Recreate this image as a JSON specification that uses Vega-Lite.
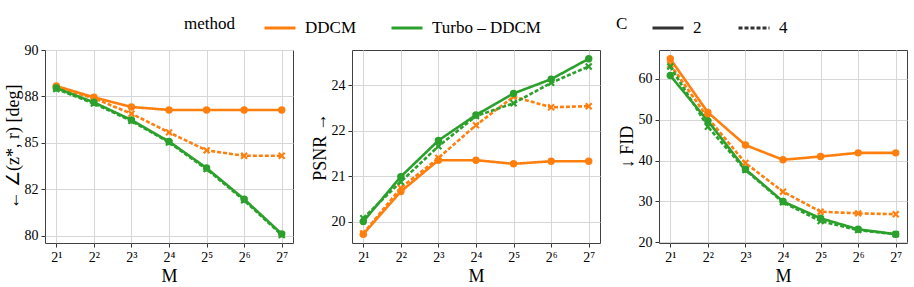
{
  "$schema": "https://vega.github.io/schema/vega-lite/v6.json",
  "padding": {"left": 3, "top": 11, "right": 5, "bottom": 5},
  "datasets": {
    "d": [
      {"metric": "angle", "M": 2, "method": "DDCM", "C": "2", "v": 88.06},
      {"metric": "angle", "M": 4, "method": "DDCM", "C": "2", "v": 87.45},
      {"metric": "angle", "M": 8, "method": "DDCM", "C": "2", "v": 86.93},
      {"metric": "angle", "M": 16, "method": "DDCM", "C": "2", "v": 86.77},
      {"metric": "angle", "M": 32, "method": "DDCM", "C": "2", "v": 86.77},
      {"metric": "angle", "M": 64, "method": "DDCM", "C": "2", "v": 86.77},
      {"metric": "angle", "M": 128, "method": "DDCM", "C": "2", "v": 86.77},
      {"metric": "angle", "M": 2, "method": "DDCM", "C": "4", "v": 87.98},
      {"metric": "angle", "M": 4, "method": "DDCM", "C": "4", "v": 87.40},
      {"metric": "angle", "M": 8, "method": "DDCM", "C": "4", "v": 86.57},
      {"metric": "angle", "M": 16, "method": "DDCM", "C": "4", "v": 85.56},
      {"metric": "angle", "M": 32, "method": "DDCM", "C": "4", "v": 84.59},
      {"metric": "angle", "M": 64, "method": "DDCM", "C": "4", "v": 84.30},
      {"metric": "angle", "M": 128, "method": "DDCM", "C": "4", "v": 84.30},
      {"metric": "angle", "M": 2, "method": "Turbo – DDCM", "C": "2", "v": 87.95},
      {"metric": "angle", "M": 4, "method": "Turbo – DDCM", "C": "2", "v": 87.18},
      {"metric": "angle", "M": 8, "method": "Turbo – DDCM", "C": "2", "v": 86.23},
      {"metric": "angle", "M": 16, "method": "Turbo – DDCM", "C": "2", "v": 85.07},
      {"metric": "angle", "M": 32, "method": "Turbo – DDCM", "C": "2", "v": 83.64},
      {"metric": "angle", "M": 64, "method": "Turbo – DDCM", "C": "2", "v": 81.96},
      {"metric": "angle", "M": 128, "method": "Turbo – DDCM", "C": "2", "v": 80.09},
      {"metric": "angle", "M": 2, "method": "Turbo – DDCM", "C": "4", "v": 87.90},
      {"metric": "angle", "M": 4, "method": "Turbo – DDCM", "C": "4", "v": 87.12},
      {"metric": "angle", "M": 8, "method": "Turbo – DDCM", "C": "4", "v": 86.18},
      {"metric": "angle", "M": 16, "method": "Turbo – DDCM", "C": "4", "v": 85.02},
      {"metric": "angle", "M": 32, "method": "Turbo – DDCM", "C": "4", "v": 83.58},
      {"metric": "angle", "M": 64, "method": "Turbo – DDCM", "C": "4", "v": 81.90},
      {"metric": "angle", "M": 128, "method": "Turbo – DDCM", "C": "4", "v": 80.03},

      {"metric": "psnr", "M": 2, "method": "DDCM", "C": "2", "v": 19.66},
      {"metric": "psnr", "M": 4, "method": "DDCM", "C": "2", "v": 20.83},
      {"metric": "psnr", "M": 8, "method": "DDCM", "C": "2", "v": 21.69},
      {"metric": "psnr", "M": 16, "method": "DDCM", "C": "2", "v": 21.69},
      {"metric": "psnr", "M": 32, "method": "DDCM", "C": "2", "v": 21.59},
      {"metric": "psnr", "M": 64, "method": "DDCM", "C": "2", "v": 21.66},
      {"metric": "psnr", "M": 128, "method": "DDCM", "C": "2", "v": 21.66},
      {"metric": "psnr", "M": 2, "method": "DDCM", "C": "4", "v": 19.68},
      {"metric": "psnr", "M": 4, "method": "DDCM", "C": "4", "v": 20.93},
      {"metric": "psnr", "M": 8, "method": "DDCM", "C": "4", "v": 21.75},
      {"metric": "psnr", "M": 16, "method": "DDCM", "C": "4", "v": 22.65},
      {"metric": "psnr", "M": 32, "method": "DDCM", "C": "4", "v": 23.43},
      {"metric": "psnr", "M": 64, "method": "DDCM", "C": "4", "v": 23.14},
      {"metric": "psnr", "M": 128, "method": "DDCM", "C": "4", "v": 23.17},
      {"metric": "psnr", "M": 2, "method": "Turbo – DDCM", "C": "2", "v": 20.01},
      {"metric": "psnr", "M": 4, "method": "Turbo – DDCM", "C": "2", "v": 21.24},
      {"metric": "psnr", "M": 8, "method": "Turbo – DDCM", "C": "2", "v": 22.23},
      {"metric": "psnr", "M": 16, "method": "Turbo – DDCM", "C": "2", "v": 22.93},
      {"metric": "psnr", "M": 32, "method": "Turbo – DDCM", "C": "2", "v": 23.52},
      {"metric": "psnr", "M": 64, "method": "Turbo – DDCM", "C": "2", "v": 23.91},
      {"metric": "psnr", "M": 128, "method": "Turbo – DDCM", "C": "2", "v": 24.47},
      {"metric": "psnr", "M": 2, "method": "Turbo – DDCM", "C": "4", "v": 20.10},
      {"metric": "psnr", "M": 4, "method": "Turbo – DDCM", "C": "4", "v": 21.10},
      {"metric": "psnr", "M": 8, "method": "Turbo – DDCM", "C": "4", "v": 22.07},
      {"metric": "psnr", "M": 16, "method": "Turbo – DDCM", "C": "4", "v": 22.90},
      {"metric": "psnr", "M": 32, "method": "Turbo – DDCM", "C": "4", "v": 23.25},
      {"metric": "psnr", "M": 64, "method": "Turbo – DDCM", "C": "4", "v": 23.81},
      {"metric": "psnr", "M": 128, "method": "Turbo – DDCM", "C": "4", "v": 24.26},

      {"metric": "fid", "M": 2, "method": "DDCM", "C": "2", "v": 64.9},
      {"metric": "fid", "M": 4, "method": "DDCM", "C": "2", "v": 51.8},
      {"metric": "fid", "M": 8, "method": "DDCM", "C": "2", "v": 43.8},
      {"metric": "fid", "M": 16, "method": "DDCM", "C": "2", "v": 40.2},
      {"metric": "fid", "M": 32, "method": "DDCM", "C": "2", "v": 41.0},
      {"metric": "fid", "M": 64, "method": "DDCM", "C": "2", "v": 41.9},
      {"metric": "fid", "M": 128, "method": "DDCM", "C": "2", "v": 41.9},
      {"metric": "fid", "M": 2, "method": "DDCM", "C": "4", "v": 63.5},
      {"metric": "fid", "M": 4, "method": "DDCM", "C": "4", "v": 50.5},
      {"metric": "fid", "M": 8, "method": "DDCM", "C": "4", "v": 39.4},
      {"metric": "fid", "M": 16, "method": "DDCM", "C": "4", "v": 32.4},
      {"metric": "fid", "M": 32, "method": "DDCM", "C": "4", "v": 27.5},
      {"metric": "fid", "M": 64, "method": "DDCM", "C": "4", "v": 27.1},
      {"metric": "fid", "M": 128, "method": "DDCM", "C": "4", "v": 26.9},
      {"metric": "fid", "M": 2, "method": "Turbo – DDCM", "C": "2", "v": 60.8},
      {"metric": "fid", "M": 4, "method": "Turbo – DDCM", "C": "2", "v": 49.7},
      {"metric": "fid", "M": 8, "method": "Turbo – DDCM", "C": "2", "v": 37.9},
      {"metric": "fid", "M": 16, "method": "Turbo – DDCM", "C": "2", "v": 30.0},
      {"metric": "fid", "M": 32, "method": "Turbo – DDCM", "C": "2", "v": 25.9},
      {"metric": "fid", "M": 64, "method": "Turbo – DDCM", "C": "2", "v": 23.2},
      {"metric": "fid", "M": 128, "method": "Turbo – DDCM", "C": "2", "v": 22.0},
      {"metric": "fid", "M": 2, "method": "Turbo – DDCM", "C": "4", "v": 63.0},
      {"metric": "fid", "M": 4, "method": "Turbo – DDCM", "C": "4", "v": 48.3},
      {"metric": "fid", "M": 8, "method": "Turbo – DDCM", "C": "4", "v": 37.7},
      {"metric": "fid", "M": 16, "method": "Turbo – DDCM", "C": "4", "v": 29.8},
      {"metric": "fid", "M": 32, "method": "Turbo – DDCM", "C": "4", "v": 25.2},
      {"metric": "fid", "M": 64, "method": "Turbo – DDCM", "C": "4", "v": 23.0},
      {"metric": "fid", "M": 128, "method": "Turbo – DDCM", "C": "4", "v": 22.0}
    ]
  },
  "hconcat": [
    {
      "width": 248, "height": 193,
      "data": {"name": "d"},
      "transform": [{"filter": "datum.metric == 'angle'"}],
      "encoding": {
        "x": {"field": "M", "type": "quantitative", "title": "M",
          "scale": {"type": "log", "base": 2, "domain": [1.6245, 157.59], "nice": false},
          "axis": {"values": [2, 4, 8, 16, 32, 64, 128], "labelExpr": "'2' + ['','¹','²','³','⁴','⁵','⁶','⁷'][round(log(datum.value)/log(2))]"}},
        "y": {"field": "v", "type": "quantitative", "title": "←  ∠(z*, r) [deg]",
          "scale": {"domain": [79.6, 90], "nice": false, "zero": false},
          "axis": {"values": [80, 82.5, 85, 87.5, 90], "labelExpr": "datum.value == 82.5 ? '82' : format(datum.value, '.0f')"}},
        "color": {"field": "method", "type": "nominal", "legend": {"title": "method", "legendX": 139, "legendY": -39}}
      },
      "layer": [
        {"mark": {"type": "line", "strokeWidth": 2.6}, "encoding": {"strokeDash": {"field": "C", "type": "nominal", "legend": {"title": "C", "legendX": 571, "legendY": -39, "titlePadding": 23, "columnPadding": 30, "symbolStrokeColor": "#333"}}, "detail": {"field": "C"}}},
        {"mark": {"type": "point", "filled": true, "opacity": 1}, "encoding": {"shape": {"field": "C", "type": "nominal", "legend": null}, "size": {"value": 55}}}
      ]
    },
    {
      "width": 248, "height": 193,
      "data": {"name": "d"},
      "transform": [{"filter": "datum.metric == 'psnr'"}],
      "encoding": {
        "x": {"field": "M", "type": "quantitative", "title": "M",
          "scale": {"type": "log", "base": 2, "domain": [1.6245, 157.59], "nice": false},
          "axis": {"values": [2, 4, 8, 16, 32, 64, 128], "labelExpr": "'2' + ['','¹','²','³','⁴','⁵','⁶','⁷'][round(log(datum.value)/log(2))]"}},
        "y": {"field": "v", "type": "quantitative", "title": "PSNR →",
          "scale": {"domain": [19.42, 24.71], "nice": false, "zero": false},
          "axis": {"values": [20, 21.25, 22.5, 23.75], "labelExpr": "datum.value == 20 ? '20' : datum.value == 21.25 ? '21' : datum.value == 22.5 ? '22' : '24'"}},
        "color": {"field": "method", "type": "nominal"}
      },
      "layer": [
        {"mark": {"type": "line", "strokeWidth": 2.6}, "encoding": {"strokeDash": {"field": "C", "type": "nominal"}, "detail": {"field": "C"}}},
        {"mark": {"type": "point", "filled": true, "opacity": 1}, "encoding": {"shape": {"field": "C", "type": "nominal", "legend": null}, "size": {"value": 55}}}
      ]
    },
    {
      "width": 248, "height": 193,
      "data": {"name": "d"},
      "transform": [{"filter": "datum.metric == 'fid'"}],
      "encoding": {
        "x": {"field": "M", "type": "quantitative", "title": "M",
          "scale": {"type": "log", "base": 2, "domain": [1.6245, 157.59], "nice": false},
          "axis": {"values": [2, 4, 8, 16, 32, 64, 128], "labelExpr": "'2' + ['','¹','²','³','⁴','⁵','⁶','⁷'][round(log(datum.value)/log(2))]"}},
        "y": {"field": "v", "type": "quantitative", "title": "↓ FID",
          "scale": {"domain": [19.85, 67.05], "nice": false, "zero": false},
          "axis": {"values": [20, 30, 40, 50, 60]}},
        "color": {"field": "method", "type": "nominal"}
      },
      "layer": [
        {"mark": {"type": "line", "strokeWidth": 2.6}, "encoding": {"strokeDash": {"field": "C", "type": "nominal"}, "detail": {"field": "C"}}},
        {"mark": {"type": "point", "filled": true, "opacity": 1}, "encoding": {"shape": {"field": "C", "type": "nominal", "legend": null}, "size": {"value": 55}}}
      ]
    }
  ],
  "spacing": 59,
  "bounds": "flush",
  "resolve": {"scale": {"x": "independent", "y": "independent", "color": "shared", "strokeDash": "shared", "shape": "shared"}},
  "config": {
    "font": "Liberation Serif",
    "view": {"stroke": "#404040", "strokeWidth": 1},
    "axis": {
      "domain": false, "grid": true, "gridColor": "#d6d6d6", "gridWidth": 1,
      "ticks": true, "tickColor": "#333", "tickSize": 4, "tickWidth": 1,
      "labelFont": "Liberation Serif", "labelFontSize": 14, "labelColor": "#000", "labelPadding": 3,
      "titleFont": "Liberation Serif", "titleFontSize": 18, "titleFontWeight": "normal", "titleColor": "#000"
    },
    "axisY": {"titlePadding": 2},
    "axisX": {"titlePadding": 3, "labelFlush": false},
    "range": {
      "category": ["#ff7f0e", "#2ca02c"],
      "strokeDash": [[1, 0], [7, 4]],
      "symbol": ["circle", "M-1,-0.6L-0.6,-1L0,-0.4L0.6,-1L1,-0.6L0.4,0L1,0.6L0.6,1L0,0.4L-0.6,1L-1,0.6L-0.4,0Z"]
    },
    "legend": {
      "orient": "none", "direction": "horizontal", "titleOrient": "left",
      "titleFont": "Liberation Serif", "titleFontSize": 17, "titleFontWeight": "normal", "titleColor": "#000",
      "labelFont": "Liberation Serif", "labelFontSize": 17, "labelColor": "#000",
      "symbolType": "stroke", "symbolSize": 961, "symbolStrokeWidth": 3, "labelOffset": 8,
      "columnPadding": 28, "titlePadding": 28
    }
  },
  "encoding": {}
}
